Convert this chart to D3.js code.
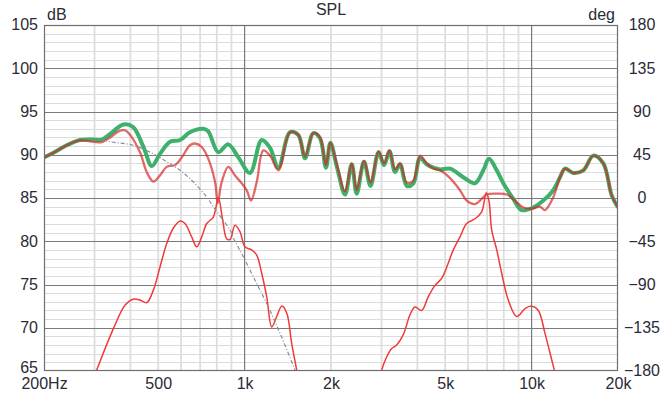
<!DOCTYPE html>
<html>
<head>
<meta charset="utf-8">
<script src="https://cdn.jsdelivr.net/npm/d3@7"></script>
<style>
  html, body { margin: 0; padding: 0; background: #fff; }
  svg { display: block; }
  text { font-family: "Liberation Sans", Arial, sans-serif; fill: #2b2b36; }
</style>
</head>
<body>
<svg id="chart" width="666" height="395"></svg>
<script>
// tick labels
var xTickValues = [200, 500, 1000, 2000, 5000, 10000, 20000];
var xTickLabels = ["200Hz", "500", "1k", "2k", "5k", "10k", "20k"];
var xMinorLines = [300, 400, 500, 600, 700, 800, 900, 2000, 3000, 4000, 5000, 6000, 7000, 8000, 9000];
var xMajorLines = [1000, 10000];
var dbTicks = [65, 70, 75, 80, 85, 90, 95, 100, 105];
var degTicks = [-180, -135, -90, -45, 0, 45, 90, 135, 180];

// total SPL (thick green)
var totalSpl = [
  [200, 89.7], [215, 90.2], [240, 91.1], [267, 91.7], [297, 91.75], [318, 91.75],
  [340, 92.4], [378, 93.5], [409, 93.2], [444, 90.9], [475, 88.7], [507, 90.1],
  [550, 91.5], [596, 91.7], [645, 92.6], [718, 93.0], [747, 92.7], [810, 90.3],
  [877, 91.2], [951, 89.7], [1044, 87.9], [1147, 91.7], [1226, 90.8], [1311, 88.5],
  [1439, 92.6], [1538, 92.3], [1624, 89.6], [1735, 92.5], [1831, 91.9], [1921, 88.5],
  [1990, 91.4], [2100, 88.5], [2238, 85.4], [2362, 88.9], [2458, 85.5], [2606, 89.2],
  [2746, 86.4], [2929, 90.3], [3061, 88.8], [3198, 90.4], [3343, 88.0], [3480, 88.9],
  [3672, 86.4], [3872, 86.7], [4085, 89.6], [4309, 88.9], [4546, 88.5], [4796, 88.3],
  [5196, 88.4], [5782, 87.4], [6351, 86.7], [6787, 88.2], [7106, 89.55], [7560, 88.2],
  [7969, 86.7], [8633, 84.9], [9235, 83.6], [10137, 83.9], [10983, 84.7], [11902, 85.9],
  [12558, 87.4], [13073, 88.4], [13975, 87.9], [15140, 88.2], [16408, 89.9], [17778, 89.0],
  [19013, 85.3], [20000, 83.9]
];

// summed SPL, second trace (thin red)
var sumSpl = [
  [200, 89.7], [215, 90.2], [240, 91.1], [267, 91.65], [297, 91.5], [318, 91.45],
  [340, 92.0], [368, 92.8], [385, 92.8], [399, 92.3], [432, 90.3], [456, 88.0],
  [481, 86.9], [507, 87.6], [535, 88.6], [572, 88.8], [604, 89.7], [645, 91.1],
  [672, 91.3], [709, 90.9], [747, 89.55], [789, 86.85], [806, 84.4], [832, 86.85],
  [877, 88.6], [926, 87.6], [977, 86.7], [1017, 85.9], [1053, 84.7], [1102, 86.85],
  [1162, 90.5], [1226, 89.9], [1311, 88.2], [1439, 92.6], [1538, 92.3], [1624, 89.8],
  [1735, 92.5], [1831, 92.0], [1921, 88.8], [1990, 91.4], [2100, 88.8], [2238, 85.8],
  [2362, 89.0], [2458, 85.9], [2606, 89.3], [2746, 86.8], [2929, 90.4], [3061, 89.0],
  [3198, 90.5], [3343, 88.3], [3480, 89.0], [3672, 86.8], [3872, 87.0], [4085, 89.9],
  [4309, 89.0], [4546, 88.4], [4796, 88.2], [5196, 87.3], [5630, 85.9], [5940, 84.7],
  [6351, 84.3], [6700, 84.9], [6974, 85.4], [7560, 85.5], [8190, 85.4], [8752, 84.7],
  [9354, 83.9], [10137, 83.8], [10698, 84.0], [11133, 83.6], [11902, 85.1], [12558, 87.4],
  [13073, 88.4], [13975, 87.9], [15140, 88.2], [16408, 89.9], [17778, 89.0], [19013, 85.3],
  [20000, 83.9]
];

// woofer (red, low)
var wooferSpl = [
  [292, 63.5], [305, 65.1], [349, 69.9], [383, 72.6], [409, 73.3], [432, 73.2],
  [456, 72.9], [481, 74.35], [507, 77.0], [535, 79.7], [564, 81.5], [596, 82.35],
  [620, 82.05], [654, 80.5], [681, 79.35], [709, 80.5], [738, 82.05], [778, 82.8],
  [810, 85.0], [839, 82.4], [866, 80.3], [890, 80.2], [926, 81.85], [964, 81.1],
  [1003, 79.35], [1058, 79.0], [1102, 78.4], [1147, 76.3], [1194, 73.6], [1243, 70.1],
  [1294, 71.3], [1347, 72.5], [1402, 71.7], [1459, 68.2], [1519, 65.1], [1550, 63.5]
];

// tweeter (red, high)
var tweeterSpl = [
  [2940, 63.5], [3004, 65.1], [3128, 66.65], [3255, 67.6], [3388, 68.0], [3572, 69.2],
  [3770, 71.5], [3924, 72.4], [4140, 72.0], [4366, 73.6], [4608, 74.9], [4860, 75.7],
  [5060, 77.0], [5336, 79.0], [5630, 80.5], [5940, 82.05], [6351, 82.6], [6700, 83.4],
  [6950, 85.6], [7100, 84.7], [7262, 81.3], [7560, 79.0], [7866, 76.3], [8294, 73.2],
  [8872, 71.3], [9484, 72.2], [10008, 72.5], [10554, 72.0], [11133, 69.35], [11750, 66.3],
  [12000, 65.1], [12200, 64.0]
];

// target slope (grey dash-dot)
var targetSpl = [
  [321, 91.7], [340, 91.5], [409, 91.1], [468, 90.3], [535, 89.2], [596, 88.2],
  [663, 86.85], [738, 85.1], [778, 84.0], [821, 82.9], [890, 81.3], [910, 80.5],
  [990, 78.2], [1072, 75.9], [1194, 72.8], [1329, 69.35], [1498, 65.1], [1530, 64.2]
];

var svg = d3.select("#chart");
var svgWidth = +svg.attr("width");
var svgHeight = +svg.attr("height");

var margin = { top: 25, left: 44, right: 48, bottom: 24 };
var drawWidth = svgWidth - margin.left - margin.right;
var drawHeight = svgHeight - margin.top - margin.bottom;

var x = d3.scaleLog().domain([200, 20000]).range([0, drawWidth]);
var y = d3.scaleLinear().domain([65, 105]).range([drawHeight, 0]);
var yDeg = d3.scaleLinear().domain([-180, 180]).range([drawHeight, 0]);

var g = svg.append("g").attr("transform", "translate(" + margin.left + "," + margin.top + ")");

g.append("rect")
  .attr("width", drawWidth)
  .attr("height", drawHeight)
  .style("fill", "#ffffff");

// grid
var grid = g.append("g").attr("class", "grid");
grid.selectAll("line.minorH")
  .data(d3.range(66, 105).filter(function (d) { return d % 5 != 0; }))
  .enter().append("line")
  .attr("x1", 0).attr("x2", drawWidth)
  .attr("y1", function (d) { return Math.round(y(d)) + 0.5; })
  .attr("y2", function (d) { return Math.round(y(d)) + 0.5; })
  .style("stroke", "#dcdcdc").style("stroke-width", 1);

grid.selectAll("line.minorV")
  .data(xMinorLines)
  .enter().append("line")
  .attr("x1", function (d) { return x(d); }).attr("x2", function (d) { return x(d); })
  .attr("y1", 0).attr("y2", drawHeight)
  .style("stroke", "#dedede").style("stroke-width", 1.8);

grid.selectAll("line.majorH")
  .data(dbTicks.slice(1, -1))
  .enter().append("line")
  .attr("x1", 0).attr("x2", drawWidth)
  .attr("y1", function (d) { return Math.round(y(d)) + 0.5; })
  .attr("y2", function (d) { return Math.round(y(d)) + 0.5; })
  .style("stroke", "#7a7a7a").style("stroke-width", 1.2);

grid.selectAll("line.majorV")
  .data(xMajorLines)
  .enter().append("line")
  .attr("x1", function (d) { return x(d); }).attr("x2", function (d) { return x(d); })
  .attr("y1", 0).attr("y2", drawHeight)
  .style("stroke", "#7a7a7a").style("stroke-width", 1.2);

svg.append("defs").append("clipPath").attr("id", "plotClip")
  .append("rect").attr("width", drawWidth).attr("height", drawHeight);

var line = d3.line()
  .x(function (d) { return x(d[0]); })
  .y(function (d) { return y(d[1]); })
  .curve(d3.curveCatmullRom.alpha(0.5));

var curves = g.append("g").attr("clip-path", "url(#plotClip)");

curves.append("path").datum(totalSpl)
  .attr("d", line)
  .style("fill", "none").style("stroke", "#3fb06c").style("stroke-width", 4)
  .style("stroke-linejoin", "round");

// semi transparent so it turns brown where it lies on the green trace
curves.append("path").datum(sumSpl)
  .attr("d", line)
  .style("fill", "none").style("stroke", "#d42222").style("stroke-width", 2.3)
  .style("stroke-opacity", 0.68);

curves.append("path").datum(wooferSpl)
  .attr("d", line)
  .style("fill", "none").style("stroke", "#f03a3a").style("stroke-width", 1.5);

curves.append("path").datum(tweeterSpl)
  .attr("d", line)
  .style("fill", "none").style("stroke", "#f03a3a").style("stroke-width", 1.5);

curves.append("path").datum(targetSpl)
  .attr("d", line)
  .style("fill", "none").style("stroke", "#8c8c9c").style("stroke-width", 1.2)
  .style("stroke-dasharray", "4,2,1,2");

// border
g.append("rect")
  .attr("x", 0.5).attr("y", 0.5)
  .attr("width", drawWidth - 1).attr("height", drawHeight - 1)
  .style("fill", "none").style("stroke", "#6e6e6e").style("stroke-width", 1.2);

// axes
var leftAxis = g.append("g")
  .call(d3.axisLeft(y).tickValues(dbTicks).tickSize(0).tickPadding(6));
leftAxis.select(".domain").remove();
leftAxis.selectAll("text")
  .style("font-size", "16px")
  .attr("dy", function (d) { return d == 65 ? "0.12em" : "0.3em"; });

var rightAxis = g.append("g")
  .attr("transform", "translate(" + drawWidth + ",0)")
  .call(d3.axisRight(yDeg).tickValues(degTicks).tickSize(0));
rightAxis.select(".domain").remove();
rightAxis.selectAll("text")
  .attr("x", 24)
  .attr("dy", "0.3em")
  .style("text-anchor", "middle")
  .style("font-size", "16px");

var bottomAxis = g.append("g")
  .attr("transform", "translate(0," + drawHeight + ")")
  .call(d3.axisBottom(x).tickValues(xTickValues).tickSize(0).tickPadding(7)
    .tickFormat(function (d, i) { return xTickLabels[i]; }));
bottomAxis.select(".domain").remove();
bottomAxis.selectAll("text").style("font-size", "16px");

svg.selectAll(".tick text").style("fill", "#2b2b36").attr("font-family", '"Liberation Sans", Arial, sans-serif');

// titles
svg.append("text").attr("x", 47).attr("y", 20).text("dB").style("font-size", "16px");
svg.append("text").attr("x", margin.left + drawWidth / 2).attr("y", 15)
  .style("text-anchor", "middle").style("font-size", "16px").text("SPL");
svg.append("text").attr("x", 615).attr("y", 20)
  .style("text-anchor", "end").style("font-size", "16px").text("deg");
</script>
</body>
</html>
